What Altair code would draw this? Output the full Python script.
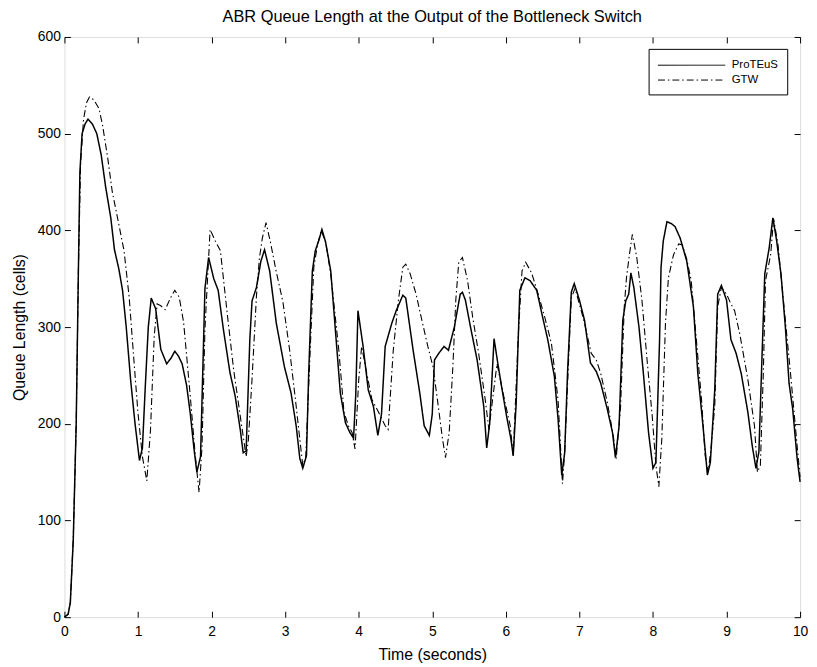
import altair as alt
import pandas as pd

# ---- data ----
SERIES = ["ProTEuS", "GTW"]
X_TICKS = list(range(0, 11))
Y_TICKS = [0, 100, 200, 300, 400, 500, 600]

P_T = [0, 0.05, 0.08, 0.12, 0.16, 0.19, 0.21, 0.24, 0.28, 0.32,
       0.38, 0.44, 0.50, 0.56, 0.63, 0.68, 0.74, 0.79, 0.84, 0.90,
       0.96, 1.02, 1.06, 1.10, 1.14, 1.18, 1.24, 1.31, 1.39, 1.45,
       1.50, 1.55, 1.60, 1.66, 1.71, 1.76, 1.80, 1.85, 1.91, 1.96,
       2.03, 2.09, 2.16, 2.25, 2.32, 2.39, 2.43, 2.47, 2.52, 2.55,
       2.61, 2.67, 2.72, 2.79, 2.88, 2.99, 3.08, 3.15, 3.20, 3.24,
       3.29, 3.32, 3.37, 3.41, 3.46, 3.50, 3.55, 3.62, 3.68, 3.75,
       3.82, 3.88, 3.93, 3.96, 3.99, 4.06, 4.13, 4.20, 4.26, 4.31,
       4.36, 4.45, 4.51, 4.60, 4.64, 4.74, 4.83, 4.89, 4.96, 5.00,
       5.03, 5.09, 5.16, 5.22, 5.30, 5.38, 5.41, 5.45, 5.52, 5.61,
       5.70, 5.74, 5.78, 5.84, 5.89, 5.95, 6.01, 6.07, 6.10, 6.14,
       6.19, 6.26, 6.33, 6.42, 6.51, 6.57, 6.66, 6.71, 6.76, 6.80,
       6.84, 6.89, 6.93, 7.00, 7.07, 7.15, 7.23, 7.29, 7.38, 7.45,
       7.49, 7.54, 7.59, 7.63, 7.67, 7.70, 7.74, 7.81, 7.87, 7.94,
       8.00, 8.04, 8.09, 8.11, 8.14, 8.19, 8.25, 8.30, 8.37, 8.46,
       8.55, 8.61, 8.68, 8.74, 8.78, 8.84, 8.88, 8.93, 9.00, 9.06,
       9.13, 9.20, 9.29, 9.35, 9.40, 9.44, 9.49, 9.52, 9.58, 9.63,
       9.68, 9.74, 9.80, 9.85, 9.90, 9.96, 10.0]
P_V = [0, 3, 15, 80, 200, 360, 460, 500, 510, 515,
       510, 500, 478, 445, 413, 380, 360, 338, 300, 245,
       200, 162, 175, 240, 300, 330, 319, 277, 262, 268,
       275, 270, 262, 240, 211, 175, 150, 166, 340, 372,
       350, 338, 298, 253, 229, 194, 170, 172, 287, 327,
       341, 368, 380, 358, 304, 259, 232, 198, 164, 154,
       167, 252, 358, 379, 390, 401, 388, 358, 300, 232,
       201, 191, 185, 230, 317, 280, 235, 218, 188, 210,
       280, 304, 317, 333, 330, 276, 232, 198, 188, 210,
       266, 273, 280, 276, 300, 334, 336, 328, 300, 266,
       218, 175, 200, 288, 263, 235, 208, 184, 167, 220,
       338, 351, 348, 338, 307, 287, 249, 205, 147, 170,
       255, 336, 345, 328, 307, 263, 254, 242, 215, 191,
       165, 198, 307, 327, 334, 356, 341, 300, 252, 191,
       154, 160, 287, 362, 389, 409, 407, 404, 392, 368,
       321, 252, 198, 147, 160, 235, 334, 343, 328, 287,
       273, 252, 212, 177, 154, 171, 287, 355, 382, 413,
       390, 355, 300, 242, 215, 164, 140]

G_T = [0, 0.05, 0.08, 0.12, 0.16, 0.19, 0.22, 0.26, 0.30, 0.34,
       0.40, 0.47, 0.52, 0.59, 0.65, 0.74, 0.81, 0.88, 0.94, 1.00,
       1.06, 1.12, 1.17, 1.22, 1.26, 1.31, 1.37, 1.44, 1.50, 1.56,
       1.62, 1.71, 1.78, 1.83, 1.87, 1.91, 1.98, 2.05, 2.12, 2.21,
       2.30, 2.39, 2.47, 2.50, 2.55, 2.61, 2.65, 2.69, 2.74, 2.80,
       2.88, 2.97, 3.06, 3.14, 3.21, 3.24, 3.28, 3.35, 3.39, 3.44,
       3.49, 3.55, 3.62, 3.73, 3.80, 3.86, 3.91, 3.95, 4.00, 4.04,
       4.11, 4.18, 4.27, 4.36, 4.40, 4.47, 4.54, 4.60, 4.64, 4.70,
       4.78, 4.85, 4.94, 5.01, 5.07, 5.14, 5.18, 5.23, 5.28, 5.32,
       5.36, 5.41, 5.48, 5.55, 5.63, 5.72, 5.77, 5.82, 5.88, 5.99,
       6.06, 6.10, 6.17, 6.22, 6.27, 6.35, 6.44, 6.53, 6.62, 6.71,
       6.77, 6.80, 6.85, 6.89, 6.94, 7.00, 7.07, 7.16, 7.23, 7.29,
       7.38, 7.46, 7.50, 7.56, 7.61, 7.64, 7.68, 7.72, 7.78, 7.85,
       7.92, 7.99, 8.04, 8.08, 8.12, 8.17, 8.21, 8.28, 8.35, 8.40,
       8.46, 8.52, 8.59, 8.66, 8.71, 8.75, 8.79, 8.84, 8.88, 8.93,
       9.00, 9.06, 9.11, 9.18, 9.29, 9.38, 9.42, 9.46, 9.50, 9.53,
       9.60, 9.64, 9.70, 9.76, 9.87, 9.96, 10.0]
G_V = [0, 3, 15, 80, 200, 360, 470, 515, 532, 538,
       535, 526, 508, 474, 440, 406, 379, 331, 270, 211,
       166, 141, 194, 290, 324, 322, 318, 330, 338, 331,
       305, 229, 166, 129, 176, 298, 401, 389, 379, 316,
       256, 208, 166, 183, 246, 332, 371, 392, 408, 388,
       357, 326, 277, 225, 177, 157, 165, 293, 362, 385,
       400, 388, 355, 276, 212, 198, 191, 174, 245, 280,
       252, 225, 212, 198, 194, 276, 328, 362, 365, 355,
       334, 310, 280, 259, 225, 184, 165, 191, 259, 328,
       367, 372, 348, 310, 273, 225, 194, 225, 262, 222,
       198, 167, 293, 358, 367, 356, 334, 310, 283, 225,
       138, 170, 260, 330, 340, 324, 304, 273, 266, 252,
       222, 188, 164, 218, 321, 351, 375, 396, 372, 328,
       266, 208, 157, 135, 184, 304, 351, 375, 386, 385,
       370, 348, 287, 225, 167, 150, 175, 218, 321, 341,
       334, 324, 317, 293, 246, 198, 150, 157, 252, 348,
       375, 412, 385, 338, 252, 177, 145]

df = pd.DataFrame({
    "t": P_T + G_T,
    "v": P_V + G_V,
    "series": [SERIES[0]] * len(P_T) + [SERIES[1]] * len(G_T),
})

FONT = "Liberation Sans"
FS = 16
TFS = 14

x_scale = alt.Scale(domain=[0, 10], nice=False, zero=False)
y_scale = alt.Scale(domain=[0, 600], nice=False)
dash_scale = alt.Scale(domain=SERIES, range=[[1, 0], [7, 3, 1.5, 3]])

legend = alt.Legend(
    title=None, orient="none", legendX=590, legendY=12,
    fillColor="white", strokeColor="black", padding=9,
    labelFont=FONT, labelFontSize=11.5, labelColor="black", labelOffset=60,
    symbolType="M-1,0L8.7,0", symbolSize=196, symbolStrokeColor="black",
    symbolFillColor="transparent", symbolStrokeWidth=1, rowPadding=2,
)

base = alt.Chart(df)

solid = base.transform_filter(alt.datum.series == SERIES[0]).mark_line(
    color="black", strokeWidth=1.5
).encode(
    x=alt.X("t:Q", scale=x_scale, axis=alt.Axis(
        orient="bottom", values=X_TICKS, format="d", tickSize=6, offset=-6,
        domain=False, grid=False, labelPadding=7, title="Time (seconds)",
        titlePadding=9, tickColor="black", labelColor="black",
        labelFont=FONT, labelFontSize=TFS, titleFont=FONT, titleFontSize=FS,
        titleFontWeight="normal", titleColor="black", labelFlush=False)),
    y=alt.Y("v:Q", scale=y_scale, axis=alt.Axis(
        orient="left", values=Y_TICKS, tickSize=6, offset=-6, domain=False,
        grid=False, labelPadding=4, title="Queue Length (cells)",
        titlePadding=10, tickColor="black", labelColor="black",
        labelFont=FONT, labelFontSize=TFS, titleFont=FONT, titleFontSize=FS,
        titleFontWeight="normal", titleColor="black", labelFlush=False)),
    strokeDash=alt.StrokeDash("series:N", scale=dash_scale, legend=legend),
)

dashed = base.transform_filter(alt.datum.series == SERIES[1]).mark_line(
    color="black", strokeWidth=1.1
).encode(
    x=alt.X("t:Q", scale=x_scale, axis=alt.Axis(
        orient="top", values=X_TICKS, tickSize=6, offset=-6, domain=False,
        grid=False, labels=False, title=None, tickColor="black")),
    y=alt.Y("v:Q", scale=y_scale, axis=alt.Axis(
        orient="right", values=Y_TICKS, tickSize=6, offset=-6, domain=False,
        grid=False, labels=False, title=None, tickColor="black")),
    strokeDash=alt.StrokeDash("series:N", scale=dash_scale, legend=legend),
)

chart = alt.layer(solid, dashed).properties(
    width=743, height=586,
    title=alt.TitleParams(
        text="ABR Queue Length at the Output of the Bottleneck Switch",
        font=FONT, fontSize=16.5, fontWeight="normal", color="black",
        anchor="middle", offset=5),
    autosize=alt.AutoSizeParams(type="none"),
    padding={"left": 57, "top": 26, "right": 9, "bottom": 44},
).configure_view(stroke="black", strokeWidth=1).configure(background="white")

chart.save("out.html", embed_options={"renderer": "svg", "actions": False})
